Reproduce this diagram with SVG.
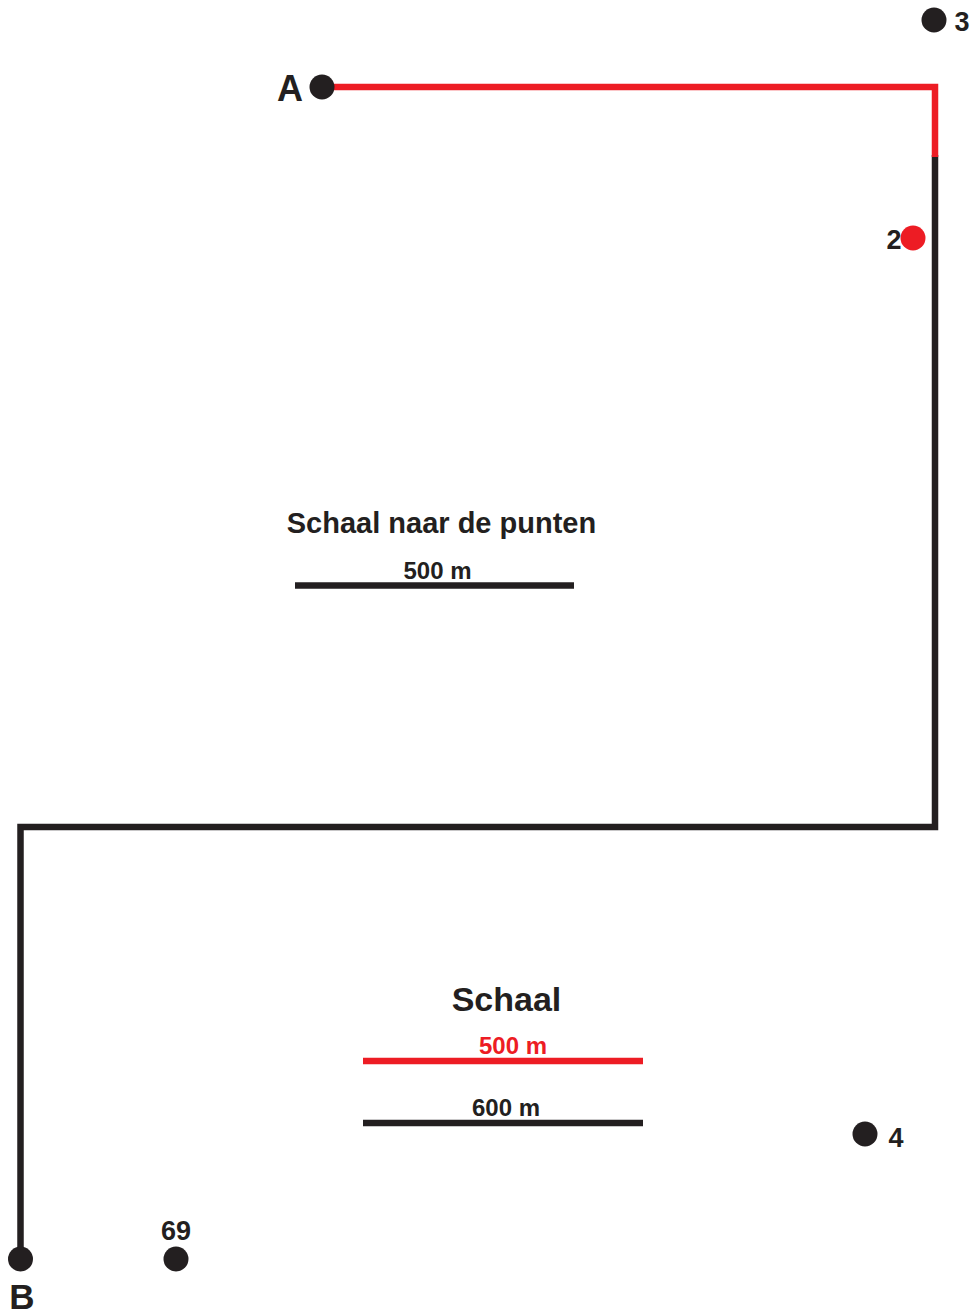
<svg xmlns="http://www.w3.org/2000/svg" width="974" height="1312" viewBox="0 0 974 1312">
<style>
.blk{fill:#231F20}
.red{fill:#ED1C24}
.ln{fill:none;stroke-width:6.5;stroke-linecap:butt;stroke-linejoin:miter}
.lb{stroke:#231F20}
.lr{stroke:#ED1C24}
text{font-family:"Liberation Sans",Arial,sans-serif;font-weight:bold;fill:#231F20}
</style>
<rect width="974" height="1312" fill="#ffffff"/>
<g id="connectors">
<polyline class="ln lb" points="935,155 935,827 20.5,827 20.5,1259"/>
<polyline class="ln lr" points="322,87 935,87 935,157"/>
</g>
<g id="node-A">
<circle class="blk" cx="322" cy="87" r="12.5"/>
<text x="290" y="101" font-size="36" text-anchor="middle">A</text>
</g>
<g id="node-3">
<circle class="blk" cx="934" cy="20" r="12.5"/>
<text x="962" y="31" font-size="27" text-anchor="middle">3</text>
</g>
<g id="node-2">
<circle class="red" cx="913" cy="238" r="12.5"/>
<text x="894" y="249" font-size="27" text-anchor="middle">2</text>
</g>
<g id="node-B">
<circle class="blk" cx="20.5" cy="1259" r="12.5"/>
<text x="22" y="1309" font-size="35" text-anchor="middle">B</text>
</g>
<g id="node-69">
<circle class="blk" cx="176" cy="1259" r="12.5"/>
<text x="176" y="1240" font-size="27" text-anchor="middle">69</text>
</g>
<g id="node-4">
<circle class="blk" cx="865" cy="1134" r="12.5"/>
<text x="896" y="1147" font-size="27" text-anchor="middle">4</text>
</g>
<g id="scale-points">
<text x="441.5" y="533" font-size="29" text-anchor="middle">Schaal naar de punten</text>
<text x="437.5" y="579" font-size="24" text-anchor="middle">500 m</text>
<line class="ln lb" x1="295" y1="585.5" x2="574" y2="585.5"/>
</g>
<g id="scale">
<text x="506.5" y="1011" font-size="34" text-anchor="middle">Schaal</text>
<text x="513" y="1054" font-size="24" text-anchor="middle" style="fill:#ED1C24">500 m</text>
<line class="ln lr" x1="363" y1="1061" x2="643" y2="1061"/>
<text x="506" y="1116" font-size="24" text-anchor="middle">600 m</text>
<line class="ln lb" x1="363" y1="1123" x2="643" y2="1123"/>
</g>
</svg>
